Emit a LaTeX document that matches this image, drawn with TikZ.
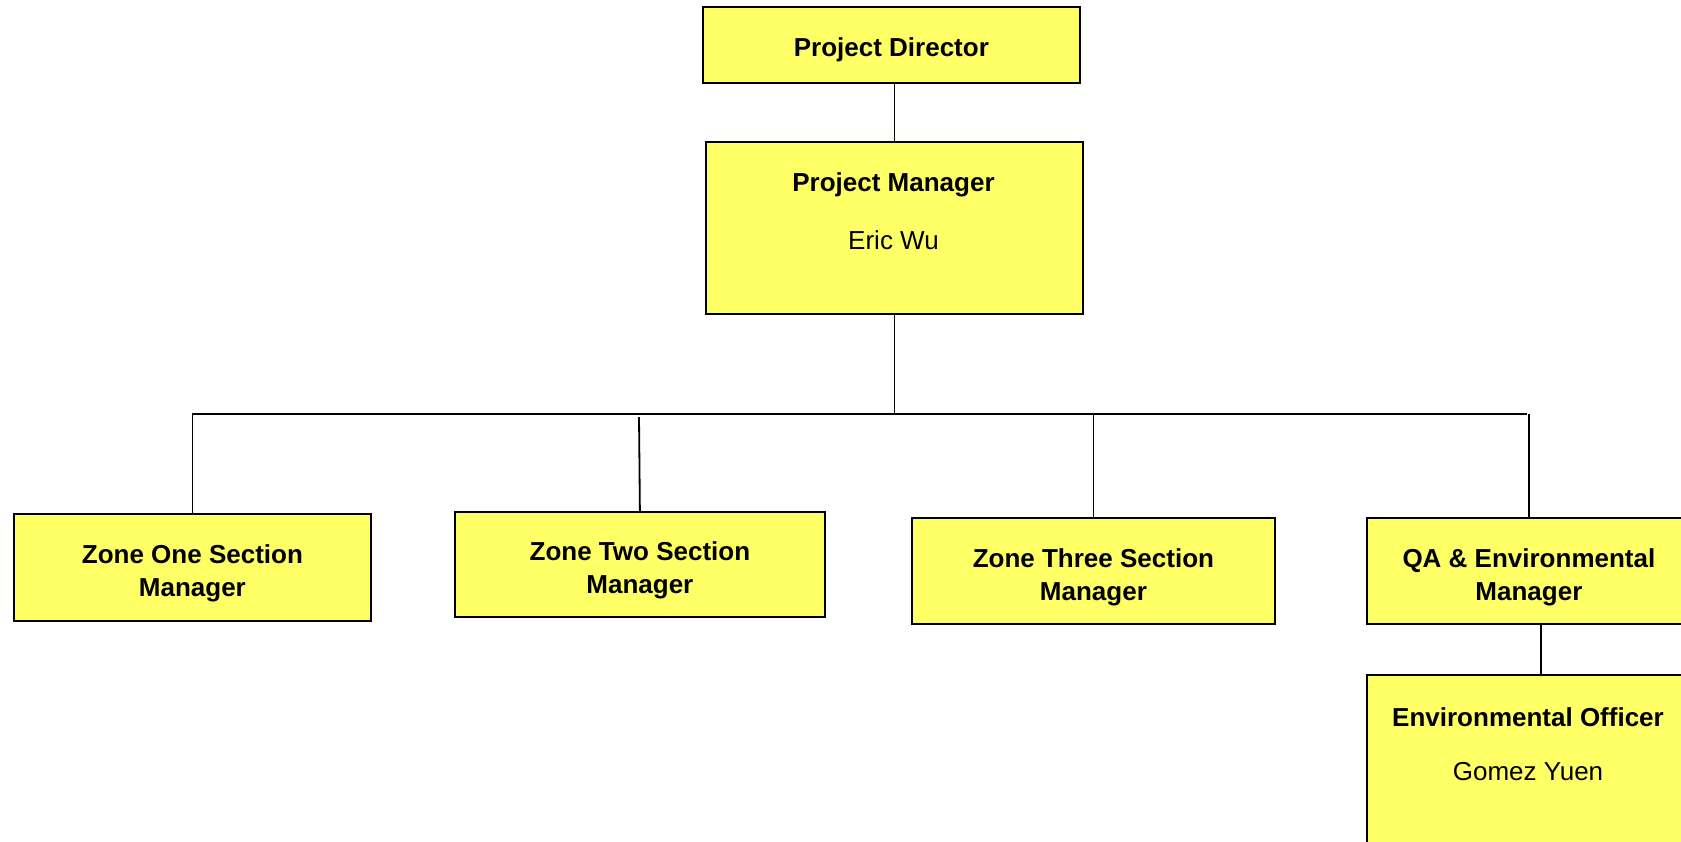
\documentclass[tikz,border=0pt]{standalone}
\usepackage{fontspec}
\setmainfont{Liberation Sans}
\begin{document}
\begin{tikzpicture}[x=1pt,y=-1pt,
  box/.style={draw=black,line width=1.8pt,fill={rgb,255:red,255;green,255;blue,102},
    anchor=north west,inner sep=0pt},
  txt/.style={inner sep=0pt,align=center,font=\fontsize{26}{33}\selectfont},
  btxt/.style={txt,font=\fontsize{26}{33}\selectfont\bfseries},
  conn/.style={draw=black,line width=1.8pt}]
\useasboundingbox (0,0) rectangle (1681,841);
\clip (0,0) rectangle (1681,841);
% boxes
\node[box,minimum width=377pt,minimum height=76pt] (PD) at (702,6) {};
\node[btxt,yshift=-5pt] (PDt) at (PD.center) {Project Director};
\node[box,minimum width=377pt,minimum height=172pt] (PM) at (705,141) {};
\node[btxt] (PMt) at (893.5,185) {Project Manager};
\node[txt] (PMn) at (893.5,240) {Eric Wu};
\node[box,minimum width=357pt,minimum height=107pt] (Z1) at (13,513) {};
\node[btxt,yshift=-6pt] (Z1t) at (Z1.center) {Zone One Section\\Manager};
\node[box,minimum width=370pt,minimum height=105pt] (Z2) at (454,511) {};
\node[btxt,yshift=-6pt] (Z2t) at (Z2.center) {Zone Two Section\\Manager};
\node[box,minimum width=363pt,minimum height=106pt] (Z3) at (911,517) {};
\node[btxt,yshift=-6pt] (Z3t) at (Z3.center) {Zone Three Section\\Manager};
\node[box,minimum width=324pt,minimum height=106pt] (QA) at (1366,517) {};
\node[btxt,yshift=-6pt] (QAt) at (QA.center) {QA \& Environmental\\Manager};
\node[box,minimum width=324pt,minimum height=200pt] (EO) at (1366,674) {};
\node[btxt] (EOt) at (1528,717) {Environmental Officer};
\node[txt] (EOn) at (1528,772) {Gomez Yuen};
% connectors
\coordinate (busL) at (192,414);
\coordinate (busR) at (1527,414);
\coordinate (z2top) at (639,417);
\draw[conn] (PM.north) -- (PM.north |- PD.south);
\draw[conn] (PM.south) -- (PM.south |- busL);
\draw[conn] (busL) -- (busR);
\draw[conn] (Z1.north) -- (Z1.north |- busL);
\draw[conn] (Z2.north) -- (z2top);
\draw[conn] (Z3.north) -- (Z3.north |- busL);
\draw[conn] (QA.north) -- (QA.north |- busR);
\draw[conn] ([xshift=12pt]QA.south) -- ([xshift=12pt]QA.south |- EO.north);
\end{tikzpicture}
\end{document}
